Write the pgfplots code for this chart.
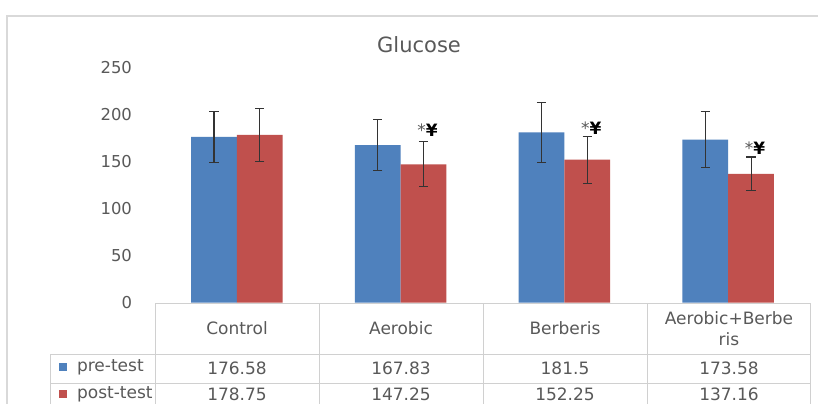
\documentclass[border=0pt]{standalone}
\usepackage{pgfplots}
\pgfplotsset{compat=1.18}
\usepackage{fontspec}
\setmainfont{DejaVu Sans}
\definecolor{preblue}{HTML}{4F81BD}
\definecolor{postred}{HTML}{C0504D}
\definecolor{txt}{HTML}{595959}
\definecolor{framec}{HTML}{D9D9D9}
\definecolor{tabc}{HTML}{D0D0D0}
\begin{document}
\begin{tikzpicture}
\path[use as bounding box, clip] (0,0) rectangle (409pt,201.5pt);
\fill[white] (0,0) rectangle (409pt,201.5pt);
% pixel grid of the reference: 1px = 0.5pt, y downwards
\begin{scope}[x=0.5pt,y=-0.5pt,shift={(0pt,201.5pt)}]
  \draw[framec, line width=0.6pt] (7,420) -- (7,16) -- (830,16);
  \node[text=txt, font=\fontsize{10.5}{12}\selectfont] at (419,45) {Glucose};
  % data table
  \draw[tabc, line width=0.5pt] (155,303) -- (810,303);
  \draw[tabc, line width=0.5pt] (50,354) -- (810,354);
  \draw[tabc, line width=0.5pt] (50,383) -- (810,383);
  \draw[tabc, line width=0.5pt] (50,354) -- (50,420);
  \foreach \xx in {155,319,483,647,810}
    \draw[tabc, line width=0.5pt] (\xx,303) -- (\xx,420);
  \begin{scope}[every node/.style={text=txt, font=\fontsize{8.5}{10.5}\selectfont}]
    \node at (237,328) {Control};
    \node at (401,328) {Aerobic};
    \node at (565,328) {Berberis};
    \node[align=center] at (729,328.5) {Aerobic+Berbe\\ris};
    \fill[preblue] (59,363) rectangle (67,371);
    \fill[postred] (59,390) rectangle (67,398);
    \node[anchor=west] at (70,367) {pre-test};
    \node[anchor=west] at (70,394) {post-test};
    \node at (237,368) {176.58};
    \node at (401,368) {167.83};
    \node at (565,368) {181.5};
    \node at (729,368) {173.58};
    \node at (237,394) {178.75};
    \node at (401,394) {147.25};
    \node at (565,394) {152.25};
    \node at (729,394) {137.16};
  \end{scope}
\end{scope}
\begin{axis}[
  at={(77.5pt,50.25pt)}, anchor=south west,
  scale only axis, width=327.5pt, height=117.25pt,
  xmin=-0.5, xmax=3.5, ymin=0, ymax=250,
  enlargelimits=false, clip=false,
  ybar=0pt, bar width=0.28,
  axis line style={draw=none},
  major tick length=0pt,
  xtick=\empty,
  ytick={0,50,...,250},
  yticklabel style={text=txt, font=\fontsize{8.2}{10}\selectfont, xshift=-8pt},
  /pgf/number format/assume math mode=true,
  error bars/y dir=both, error bars/y explicit,
  error bars/error bar style={line width=0.55pt, black!80},
  error bars/error mark options={rotate=90, mark size=2.3pt, line width=0.55pt, black!80},
]
\addplot[fill=preblue, draw=none] coordinates {
  (0,176.58) +- (0,27)
  (1,167.83) +- (0,27)
  (2,181.5)  +- (0,32)
  (3,173.58) +- (0,30)
};
\addplot[fill=postred, draw=none] coordinates {
  (0,178.75) +- (0,28)
  (1,147.25) +- (0,24)
  (2,152.25) +- (0,25)
  (3,137.16) +- (0,18)
};
\node[font=\fontsize{8.5}{9}\selectfont] at (axis cs:1.165,184) {\textcolor{txt}{*}\textbf{¥}};
\node[font=\fontsize{8.5}{9}\selectfont] at (axis cs:2.165,186) {\textcolor{txt}{*}\textbf{¥}};
\node[font=\fontsize{8.5}{9}\selectfont] at (axis cs:3.165,164.5) {\textcolor{txt}{*}\textbf{¥}};
\end{axis}
\end{tikzpicture}
\end{document}
